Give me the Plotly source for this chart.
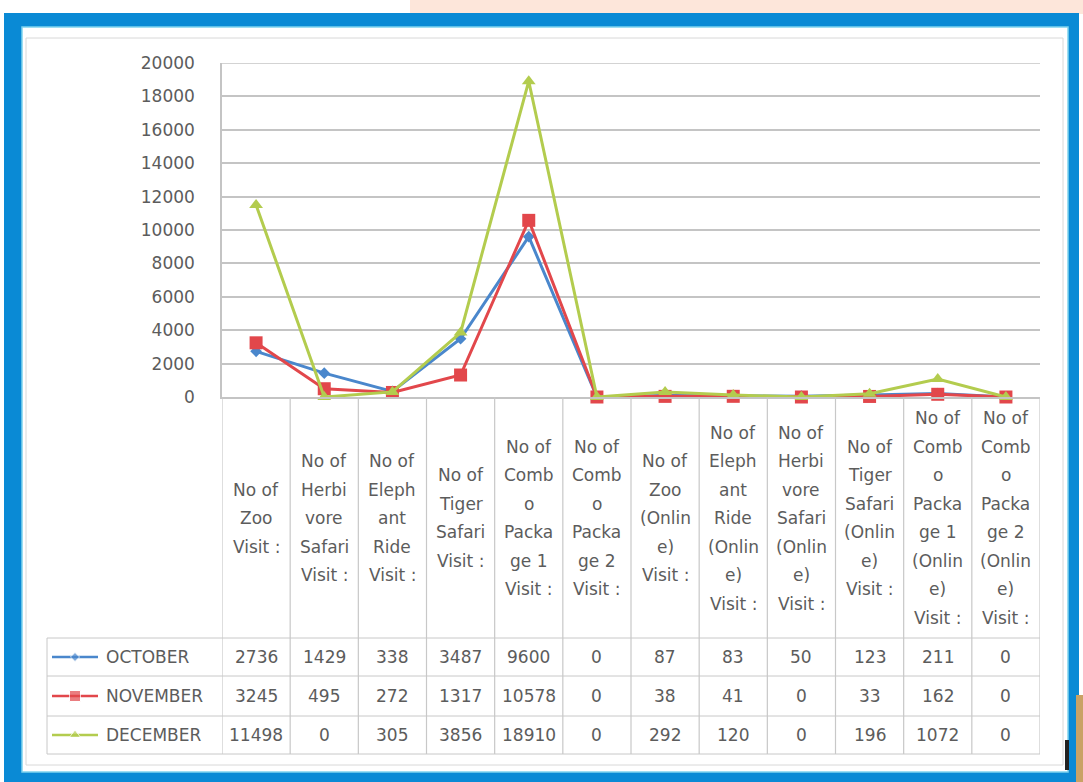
import plotly.graph_objects as go

# ---------------- data ----------------
categories = [
    "No of Zoo Visit :",
    "No of Herbivore Safari Visit :",
    "No of Elephant Ride Visit :",
    "No of Tiger Safari Visit :",
    "No of Combo Package 1 Visit :",
    "No of Combo Package 2 Visit :",
    "No of Zoo (Online) Visit :",
    "No of Elephant Ride (Online) Visit :",
    "No of Herbivore Safari (Online) Visit :",
    "No of Tiger Safari (Online) Visit :",
    "No of Combo Package 1 (Online) Visit :",
    "No of Combo Package 2 (Online) Visit :",
]
category_lines = [
    ["No of", "Zoo", "Visit :"],
    ["No of", "Herbi", "vore", "Safari", "Visit :"],
    ["No of", "Eleph", "ant", "Ride", "Visit :"],
    ["No of", "Tiger", "Safari", "Visit :"],
    ["No of", "Comb", "o", "Packa", "ge 1", "Visit :"],
    ["No of", "Comb", "o", "Packa", "ge 2", "Visit :"],
    ["No of", "Zoo", "(Onlin", "e)", "Visit :"],
    ["No of", "Eleph", "ant", "Ride", "(Onlin", "e)", "Visit :"],
    ["No of", "Herbi", "vore", "Safari", "(Onlin", "e)", "Visit :"],
    ["No of", "Tiger", "Safari", "(Onlin", "e)", "Visit :"],
    ["No of", "Comb", "o", "Packa", "ge 1", "(Onlin", "e)", "Visit :"],
    ["No of", "Comb", "o", "Packa", "ge 2", "(Onlin", "e)", "Visit :"],
]
series_names = ["OCTOBER", "NOVEMBER", "DECEMBER"]
october = [2736, 1429, 338, 3487, 9600, 0, 87, 83, 50, 123, 211, 0]
november = [3245, 495, 272, 1317, 10578, 0, 38, 41, 0, 33, 162, 0]
december = [11498, 0, 305, 3856, 18910, 0, 292, 120, 0, 196, 1072, 0]
y_ticks = [0, 2000, 4000, 6000, 8000, 10000, 12000, 14000, 16000, 18000, 20000]
y_tick_labels = ["0", "2000", "4000", "6000", "8000", "10000", "12000",
                 "14000", "16000", "18000", "20000"]

# ---------------- styling ----------------
W, H = 1083, 782
FONT = "DejaVu Sans"
TXT = "#5c5c5c"
GRID = "#c4c4c4"
TLINE = "#c8c8c8"
colors = ["#4a87cc", "#e2474b", "#b3cc4e"]
symbols = ["diamond", "square", "triangle-up"]
msizes = [9, 13, 12]

# vertical mapping calibrated to the captured picture
V_OFF, V_SPAN = 10.0, 762.0


def X(px):
    return px / W


def Y(py):
    return 1 - (py - V_OFF) / V_SPAN


PLOT_L, PLOT_R, PLOT_T, PLOT_B = 222, 1040, 63, 397
TABLE_L = 47
ROW_EDGES = [638, 676, 716, 754]
row_centers = [(ROW_EDGES[i] + ROW_EDGES[i + 1]) / 2 for i in range(3)]
LABEL_CENTER = 518
LINE_STEP = 28.5

fig = go.Figure()
xs = list(range(len(categories)))
all_series = [october, november, december]
for i, (name, vals) in enumerate(zip(series_names, all_series)):
    fig.add_trace(go.Scatter(
        x=xs, y=vals, name=name, mode="lines+markers",
        line=dict(color=colors[i], width=3),
        marker=dict(symbol=symbols[i], size=msizes[i], color=colors[i]),
        showlegend=False, cliponaxis=False,
    ))

# legend keys in table's first column (secondary axes in pixel units)
for i, name in enumerate(series_names):
    fig.add_trace(go.Scatter(
        x=[52, 75, 98], y=[row_centers[i]] * 3, mode="lines+markers",
        line=dict(color=colors[i], width=2.5),
        marker=dict(symbol=symbols[i], size=[0, msizes[i] - 2, 0], color=colors[i]),
        xaxis="x2", yaxis="y2", showlegend=False, hoverinfo="skip",
    ))

shapes = []
# background frame
shapes.append(dict(type="rect", xref="paper", yref="paper", x0=X(410), x1=1, y0=Y(14), y1=Y(0),
                   fillcolor="#fde6da", line=dict(width=0), layer="below"))
shapes.append(dict(type="rect", xref="paper", yref="paper", x0=X(4), x1=X(1079), y0=Y(782), y1=Y(13),
                   fillcolor="#0a8ad5", line=dict(width=0), layer="below"))
shapes.append(dict(type="rect", xref="paper", yref="paper", x0=X(22), x1=X(1068), y0=Y(772), y1=Y(27),
                   fillcolor="#ffffff", line=dict(width=1.5, color="#7fd3ee"), layer="below"))
shapes.append(dict(type="rect", xref="paper", yref="paper", x0=X(26), x1=X(1063), y0=Y(765), y1=Y(38),
                   fillcolor="rgba(0,0,0,0)", line=dict(width=1, color="#d8d8d8"), layer="below"))
shapes.append(dict(type="rect", xref="paper", yref="paper", x0=X(1076), x1=1, y0=Y(782), y1=Y(695),
                   fillcolor="#c9a265", line=dict(width=0), layer="below"))
shapes.append(dict(type="rect", xref="paper", yref="paper", x0=X(1065), x1=X(1069), y0=Y(770), y1=Y(740),
                   fillcolor="#222222", line=dict(width=0), layer="below"))
# top gridline
shapes.append(dict(type="line", xref="paper", yref="y", x0=X(PLOT_L), x1=X(PLOT_R),
                   y0=y_ticks[-1], y1=y_ticks[-1], line=dict(color=GRID, width=1.5), layer="below"))
# column dividers (category label area + table)
for k in range(len(categories) + 1):
    shapes.append(dict(type="line", xref="x", yref="paper", x0=k - 0.5, x1=k - 0.5,
                       y0=Y(PLOT_B), y1=Y(ROW_EDGES[-1]), line=dict(color=TLINE, width=1.2)))
# table row lines
for ry in ROW_EDGES:
    shapes.append(dict(type="line", xref="paper", yref="paper", x0=X(TABLE_L), x1=X(PLOT_R),
                       y0=Y(ry), y1=Y(ry), line=dict(color=TLINE, width=1)))
shapes.append(dict(type="line", xref="paper", yref="paper", x0=X(TABLE_L), x1=X(TABLE_L),
                   y0=Y(ROW_EDGES[0]), y1=Y(ROW_EDGES[-1]), line=dict(color=TLINE, width=1)))

annotations = []
# category labels
for k, lines in enumerate(category_lines):
    n = len(lines)
    for j, t in enumerate(lines):
        py = LABEL_CENTER + (j - (n - 1) / 2) * LINE_STEP
        annotations.append(dict(x=k, y=Y(py), xref="x", yref="paper", text=t, showarrow=False,
                                xanchor="center", yanchor="middle",
                                font=dict(family=FONT, size=17, color=TXT)))
# table values
for i, vals in enumerate(all_series):
    for k, v in enumerate(vals):
        annotations.append(dict(x=k, y=Y(row_centers[i]), xref="x", yref="paper", text=str(v),
                                showarrow=False, xanchor="center", yanchor="middle",
                                font=dict(family=FONT, size=17, color=TXT)))
# legend labels
for i, name in enumerate(series_names):
    annotations.append(dict(x=104, y=row_centers[i], xref="x2", yref="y2", text=name, showarrow=False,
                            xanchor="left", yanchor="middle",
                            font=dict(family=FONT, size=17, color=TXT)))

fig.update_layout(
    width=W, height=H,
    autosize=False,
    margin=dict(l=0, r=0, t=0, b=0),
    paper_bgcolor="#ffffff",
    plot_bgcolor="rgba(0,0,0,0)",
    showlegend=False,
    xaxis=dict(domain=[X(PLOT_L), X(PLOT_R)], range=[-0.5, len(categories) - 0.5],
               showgrid=False, zeroline=False, showticklabels=False, ticks="",
               showline=True, linecolor=GRID, linewidth=1.5, fixedrange=True),
    yaxis=dict(domain=[Y(PLOT_B), Y(PLOT_T)], range=[0, 20000],
               tickmode="array", tickvals=y_ticks, ticktext=y_tick_labels,
               showgrid=True, gridcolor=GRID, gridwidth=1.5, zeroline=False,
               showline=True, linecolor=GRID, linewidth=1.5,
               ticks="", ticklabelstandoff=22,
               tickfont=dict(family=FONT, size=17, color=TXT), fixedrange=True),
    xaxis2=dict(domain=[X(TABLE_L), X(PLOT_L)], range=[TABLE_L, PLOT_L], visible=False,
                anchor="y2", fixedrange=True),
    yaxis2=dict(domain=[Y(ROW_EDGES[-1]), Y(ROW_EDGES[0])], range=[ROW_EDGES[-1], ROW_EDGES[0]],
                visible=False, anchor="x2", fixedrange=True),
    shapes=shapes,
    annotations=annotations,
)

post = ("var h=document.documentElement,b=document.body;"
        "h.style.margin='0';h.style.padding='0';h.style.overflow='hidden';h.style.height='782px';"
        "b.style.margin='0';b.style.padding='0';b.style.overflow='hidden';b.style.height='782px';"
        "var d=document.getElementById('{plot_id}');"
        "d.style.position='fixed';d.style.left='0px';d.style.top='0px';")
fig.write_html("out.html", post_script=post,
               config={"displayModeBar": False, "responsive": False})
